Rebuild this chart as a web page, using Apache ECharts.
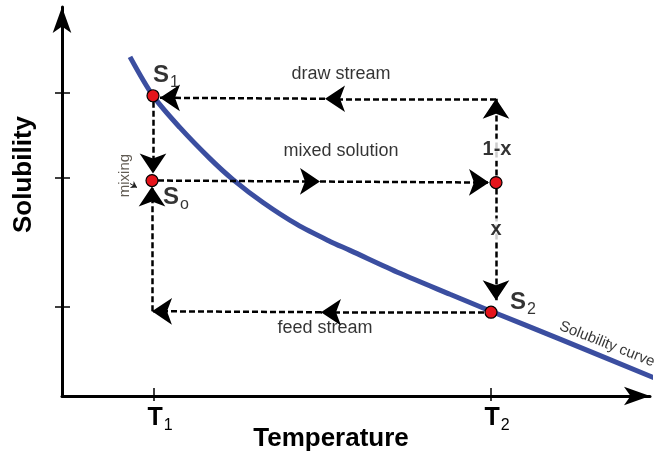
<!DOCTYPE html>
<html>
<head>
<meta charset="utf-8">
<script src="https://cdn.jsdelivr.net/npm/echarts@6/dist/echarts.min.js"></script>
<style>
  html, body { margin: 0; padding: 0; background: #fff; }
  #chart { width: 659px; height: 457px; }
</style>
</head>
<body>
<div id="chart"></div>
<script>
// solubility curve (arbitrary units)
const curveT = [68, 91, 118, 148, 171, 201, 235, 268, 288, 338, 388, 429, 498, 595];
const curveS = [340, 301, 269, 238, 217, 194, 172, 155, 146, 123, 102, 85, 57, 17];

// operating points S1, So, mixed, S2
const stateNames = ['S1', 'So', 'mix', 'S2'];
const stateT = [91, 90, 434, 429];
const stateS = [301, 216, 214, 84];

// flow paths, every leg ends with an arrow head
const drawPath = [[434, 221], [434, 298], [263, 298], [98, 299]];
const mixPath = [[96, 216], [258, 215], [427, 214]];
const splitPath = [[434, 208], [434, 96]];
const feedPath = [[422, 84], [259, 84], [90, 85], [90, 210]];
const dropPath = [[91, 295], [91, 223]];

// axis ticks
const tempTicks = [92, 429];
const tempSubs = ['1', '2'];
const solTicks = [89, 219, 304];

// annotations
const annoText = ['{b|S}{s|1}', '{b|S}{s|o}', '{b|S}{s|2}', 'draw stream', 'mixed solution',
  'feed stream', '1-x', 'x', 'mixing', 'Solubility curve'];
const annoT = [104, 114, 461, 279, 279, 263, 435, 434, 63, 545];
const annoS = [321, 199, 94, 323, 246, 68, 247, 167, 221, 52];

const FONT = '"Liberation Sans", Arial, sans-serif';

const chart = echarts.init(document.getElementById('chart'));

function legs(path) {
  const out = [];
  for (let i = 0; i < path.length - 1; i++) {
    out.push({coords: [path[i], path[i + 1]]});
  }
  return out;
}

const subRich = {
  b: {fontSize: 24, fontWeight: 'bold', color: '#000', fontFamily: FONT, lineHeight: 28},
  s: {fontSize: 16, color: '#000', fontFamily: FONT, lineHeight: 28, padding: [14, 0, 0, 1]},
};

const annoStyle = [
  {rich: subRich},
  {rich: subRich},
  {rich: subRich},
  {fontSize: 18, color: '#000'},
  {fontSize: 18, color: '#000'},
  {fontSize: 18, color: '#000'},
  {fontSize: 20, fontWeight: 'bold', color: '#000', backgroundColor: '#fff', padding: [1, 2]},
  {fontSize: 20, fontWeight: 'bold', color: '#000', backgroundColor: '#fff', padding: [1, 3]},
  {fontSize: 15, color: '#3a3228', rotate: 90},
  {fontSize: 15, color: '#000', rotate: -21.5},
];

const tickRich = {
  b: {fontSize: 25, fontWeight: 'bold', color: '#000', fontFamily: FONT, lineHeight: 28},
  s: {fontSize: 16, color: '#000', fontFamily: FONT, lineHeight: 28, padding: [15, 0, 0, 1]},
};

const baseAxis = {
  type: 'value',
  min: 0,
  splitLine: {show: false},
};

chart.setOption({
  animation: false,
  backgroundColor: '#fff',
  grid: {left: 62, right: 9, top: 7, bottom: 60},
  xAxis: [
    Object.assign({}, baseAxis, {
      max: 588,
      axisLine: {
        onZero: false,
        symbol: ['none', 'arrow'],
        symbolSize: [14, 26],
        lineStyle: {color: '#000', width: 3},
      },
      axisTick: {show: true, customValues: tempTicks, length: 5, lineStyle: {color: '#000', width: 1.5}},
      axisLabel: {
        customValues: tempTicks,
        margin: 8,
        padding: [0, 0, 0, 12],
        formatter: (v) => '{b|T}{s|' + tempSubs[tempTicks.indexOf(v)] + '}',
        rich: tickRich,
      },
      name: 'Temperature',
      nameLocation: 'middle',
      nameGap: 30,
      nameMoveOverlap: false,
      nameTextStyle: {fontSize: 26, fontWeight: 'bold', color: '#000', fontFamily: FONT, padding: [0, 50, 0, 0]},
    }),
    Object.assign({}, baseAxis, {
      max: 588,
      position: 'bottom',
      axisLine: {show: false, onZero: false},
      axisTick: {show: true, inside: true, customValues: tempTicks, length: 8, lineStyle: {color: '#000', width: 1.5}},
      axisLabel: {show: false},
    }),
  ],
  yAxis: [
    Object.assign({}, baseAxis, {
      max: 390,
      axisLine: {
        onZero: false,
        symbol: ['none', 'arrow'],
        symbolSize: [14, 26],
        lineStyle: {color: '#000', width: 3},
      },
      axisTick: {show: true, customValues: solTicks, length: 7, lineStyle: {color: '#000', width: 1.5}},
      axisLabel: {show: false},
      name: 'Solubility',
      nameLocation: 'middle',
      nameGap: 25,
      nameMoveOverlap: false,
      nameTextStyle: {fontSize: 26, fontWeight: 'bold', color: '#000', fontFamily: FONT, padding: [0, 0, 0, 54]},
    }),
    Object.assign({}, baseAxis, {
      max: 390,
      position: 'left',
      axisLine: {show: false, onZero: false},
      axisTick: {show: true, inside: true, customValues: solTicks, length: 8, lineStyle: {color: '#000', width: 1.5}},
      axisLabel: {show: false},
    }),
  ],
  series: [
    {
      name: 'Solubility curve',
      type: 'line',
      data: curveT.map((t, i) => [t, curveS[i]]),
      smooth: 0.3,
      showSymbol: false,
      clip: false,
      lineStyle: {color: '#3b4ea0', width: 5},
      z: 2,
    },
    {
      name: 'streams',
      type: 'lines',
      coordinateSystem: 'cartesian2d',
      data: [].concat(legs(drawPath), legs(mixPath), legs(splitPath), legs(feedPath), legs(dropPath)),
      symbol: ['none', 'arrow'],
      symbolSize: [9, 20],
      lineStyle: {color: '#000', width: 2.5, type: [6, 3], opacity: 1, curveness: 0},
      z: 3,
    },
    {
      name: 'mixing mark',
      type: 'lines',
      coordinateSystem: 'cartesian2d',
      data: [{coords: [[68, 213], [75, 209]]}],
      symbol: ['none', 'arrow'],
      symbolSize: [4, 6],
      lineStyle: {color: '#222', width: 1, opacity: 1},
      z: 3,
    },
    {
      name: 'states',
      type: 'scatter',
      data: stateT.map((t, i) => ({name: stateNames[i], value: [t, stateS[i]]})),
      symbolSize: 12,
      itemStyle: {color: '#e5141b', borderColor: '#000', borderWidth: 1.2, opacity: 1},
      z: 5,
    },
    {
      name: 'labels',
      type: 'scatter',
      symbolSize: 1,
      itemStyle: {color: 'transparent'},
      data: annoT.map((t, i) => ({
        value: [t, annoS[i]],
        label: Object.assign({show: true, position: 'inside', fontFamily: FONT, formatter: annoText[i]}, annoStyle[i]),
      })),
      z: 6,
    },
  ],
});
</script>
</body>
</html>
